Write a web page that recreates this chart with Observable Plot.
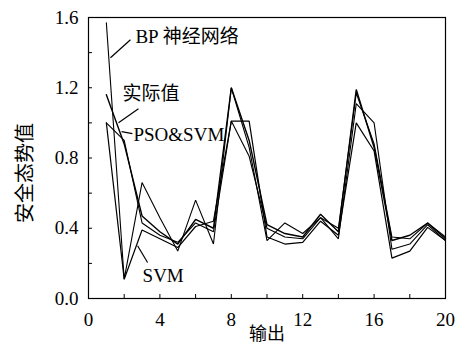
<!DOCTYPE html>
<html>
<head>
<meta charset="utf-8">
<script src="https://cdn.jsdelivr.net/npm/d3@7"></script>
<script src="https://cdn.jsdelivr.net/npm/@observablehq/plot@0.6"></script>
<style>
  html, body { margin: 0; padding: 0; background: #fff; }
</style>
</head>
<body>
<div id="chart"></div>
<script>
const xs = [1,2,3,4,5,6,7,8,9,10,11,12,13,14,15,16,17,18,19,20];
const actual = [1.16,0.88,0.47,0.38,0.31,0.45,0.40,1.20,0.90,0.42,0.37,0.35,0.48,0.38,1.19,0.86,0.33,0.36,0.43,0.34];
const bp     = [1.57,0.11,0.66,0.46,0.27,0.56,0.31,1.20,0.86,0.33,0.43,0.37,0.46,0.34,1.11,1.00,0.28,0.31,0.42,0.33];
const psoSvm = [1.00,0.90,0.43,0.36,0.32,0.43,0.38,1.01,0.81,0.40,0.35,0.34,0.46,0.40,1.17,0.88,0.35,0.34,0.43,0.35];
const svm    = [1.00,0.11,0.39,0.34,0.29,0.41,0.44,1.01,1.01,0.35,0.31,0.32,0.44,0.36,1.00,0.84,0.23,0.27,0.405,0.33];
const seriesNames = ["实际值", "BP 神经网络", "PSO&SVM", "SVM"];
const seriesValues = [actual, bp, psoSvm, svm];
const seriesWidths = [1.4, 1.1, 1.1, 1.2];

const xTicksMinor = [0,2,4,6,8,10,12,14,16,18,20];
const xTicksMajor = [0,4,8,12,16,20];
const yTicksMinor = [0,0.2,0.4,0.6,0.8,1.0,1.2,1.4,1.6];
const yTicksMajor = [0,0.4,0.8,1.2,1.6];
const xLabel = "输出";
const yLabel = "安全态势值";

// annotation labels (data units) and leader lines
const annLabels = ["BP 神经网络", "实际值", "PSO&SVM", "SVM"];
const annX = [2.63, 1.90, 2.52, 3.03];
const annY = [1.49, 1.166, 0.933, 0.131];
const leadX1 = [1.23, 1.68, 1.85, 2.75];
const leadY1 = [1.371, 1.001, 0.95, 0.30];
const leadX2 = [2.35, 2.80, 2.46, 3.31];
const leadY2 = [1.473, 1.081, 0.939, 0.205];

const rows = [];
seriesNames.forEach((name, s) => {
  xs.forEach((x, i) => rows.push({series: name, x, y: seriesValues[s][i]}));
});
const anns = annLabels.map((t, i) => ({t, x: annX[i], y: annY[i]}));
const leads = annLabels.map((t, i) => ({x1: leadX1[i], y1: leadY1[i], x2: leadX2[i], y2: leadY2[i]}));

const font = "'Liberation Serif', 'Noto Sans CJK SC', serif";

const marks = [
  Plot.frame({stroke: "black", strokeWidth: 1.2}),
  Plot.axisX({ticks: xTicksMinor, tickSize: -4, tickFormat: () => "", label: null}),
  Plot.axisY({ticks: yTicksMinor, tickSize: -4, tickFormat: () => "", label: null}),
  Plot.axisX({ticks: xTicksMajor, tickSize: 0, tickPadding: 14, tickFormat: d3.format("d"), label: null, fontSize: 19}),
  Plot.axisY({ticks: yTicksMajor, tickSize: 0, tickPadding: 10, tickFormat: d3.format(".1f"), label: null, fontSize: 19}),
  Plot.text([xLabel], {text: d => d, frameAnchor: "bottom", dy: 36, lineAnchor: "middle", textAnchor: "middle", fontSize: 18}),
  Plot.text([yLabel], {text: d => d, frameAnchor: "left", dx: -63, dy: 15, rotate: -90, lineAnchor: "middle", textAnchor: "middle", fontSize: 20}),
];
seriesNames.forEach((name, s) => {
  marks.push(Plot.line(rows.filter(r => r.series === name), {x: "x", y: "y", stroke: "black", strokeWidth: seriesWidths[s], strokeLinejoin: "miter"}));
});
marks.push(Plot.link(leads, {x1: "x1", y1: "y1", x2: "x2", y2: "y2", stroke: "black", strokeWidth: 1.2}));
marks.push(Plot.text(anns, {x: "x", y: "y", text: "t", textAnchor: "start", fontSize: 19, fill: "black"}));

const chart = Plot.plot({
  width: 457,
  height: 352,
  marginLeft: 88,
  marginRight: 12,
  marginTop: 17,
  marginBottom: 54,
  x: {domain: [0, 20]},
  y: {domain: [0, 1.6]},
  style: {fontFamily: font, fontSize: "18px", color: "black", background: "white"},
  marks
});
document.getElementById("chart").appendChild(chart);
</script>
</body>
</html>
